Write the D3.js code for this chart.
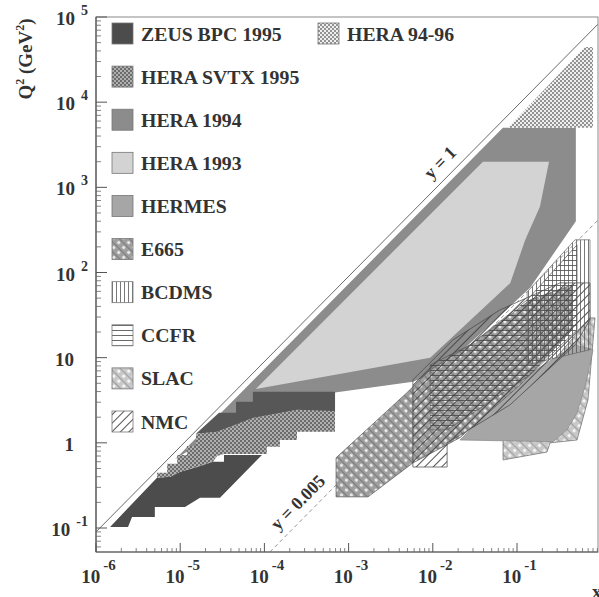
<!DOCTYPE html>
<html><head><meta charset="utf-8">
<script src="https://cdn.jsdelivr.net/npm/d3@7"></script>
<style>
html,body{margin:0;padding:0;background:#fff;}
svg{display:block;}
text{font-family:"Liberation Serif","DejaVu Serif",serif;font-weight:bold;fill:#333;}
</style></head><body>
<svg id="chart" width="599" height="597"></svg>
<script>
// Kinematic regions in the (x, Q2) plane; vertices are [x, Q2 in GeV^2]
const hera9496 = [[0.64,44500],[0.80,44500],[0.80,5000],[0.078,5000]];
const hera1994 = [[0.068,5000],[0.50,5000],[0.50,400],[0.143,66],[0.0122,7.0],[0.0058,5.2],[6.9e-4,3.9],[6.9e-4,2.3],[1.54e-5,0.92],[8.7e-6,0.64]];
const hera1993 = [[0.0394,2000],[0.24,2000],[0.187,590],[0.125,240],[0.083,75],[0.0093,10],[7.9e-5,4.3]];
const hera94Low = [[1.54e-5,1.28],[2.89e-5,2.25],[4.6e-5,2.25],[4.6e-5,3.03],[7.3e-5,3.03],[7.3e-5,3.97],[6.9e-4,3.97],[6.9e-4,2.31],[2.44e-4,2.44],[7.3e-5,1.96],[2.74e-5,1.35]];
const zeusBpc = [[9.35e-5,0.72],[3.31e-5,0.72],[3.31e-5,0.60],[2.45e-5,0.60],[1.58e-5,0.52],[1.0e-5,0.457],[7.6e-6,0.40],[5.3e-6,0.39],[1.47e-6,0.103],[2.4e-6,0.103],[2.68e-6,0.135],[5.0e-6,0.135],[5.0e-6,0.177],[1.14e-5,0.177],[1.72e-5,0.226],[2.97e-5,0.226]];
const heraSvtx = [[1.54e-5,1.28],[2.74e-5,1.35],[7.3e-5,1.96],[2.44e-4,2.44],[6.9e-4,2.37],[6.9e-4,1.35],[2.44e-4,1.35],[2.44e-4,1.08],[1.53e-4,1.08],[1.53e-4,0.90],[1.07e-4,0.90],[1.07e-4,0.74],[3.31e-5,0.74],[2.74e-5,0.70],[2.45e-5,0.60],[1.58e-5,0.52],[1.0e-5,0.457],[7.6e-6,0.40],[5.3e-6,0.39],[5.3e-6,0.445],[7.0e-6,0.445],[7.0e-6,0.567],[9.2e-6,0.567],[9.2e-6,0.72],[1.2e-5,0.72],[1.2e-5,0.92],[1.54e-5,0.92]];
const slac = [[0.0683,1.03],[0.0683,0.63],[0.227,0.78],[0.247,1.0],[0.516,1.08],[0.697,3.2],[0.844,29.3],[0.736,29.3],[0.0683,1.86]];
const hermes = [[0.021,1.08],[0.268,1.03],[0.393,1.42],[0.516,2.25],[0.643,4.54],[0.80,12.4],[0.489,14.1],[0.109,5.49]];
const e665 = [[7.1e-4,0.667],[4.9e-3,3.86],[9.3e-3,7.19],[0.0277,14.1],[0.143,47.6],[0.45,71.5],[0.45,21.2],[0.109,4.80],[0.021,1.15],[5.8e-3,0.58],[1.7e-3,0.232],[7.1e-4,0.232]];
const nmc = [[5.8e-3,0.52],[0.0148,0.52],[0.0148,1.0],[0.0826,2.79],[0.489,14.1],[0.736,27.8],[0.736,75.5],[0.324,75.5],[0.0628,36.4],[0.0174,16.2],[5.8e-3,5.49]];
const ccfr = [[9.3e-3,1.42],[9.3e-3,8.23],[0.0277,14.1],[0.132,47.6],[0.516,211],[0.516,21.2],[0.143,6.28],[0.0277,2.13],[0.0148,1.42]];
const bcdms = [[0.489,242],[0.736,242],[0.736,12.4],[0.132,8.23],[0.132,59]];

// Kinematic limit lines Q2 = s*x*y with s = 9e4 GeV^2
const sHera = 9e4;
const yLines = [1, 0.005];
const yLineLabels = ["y = 1", "y = 0.005"];
const yLineLabelX = [0.0163, 3.35e-4];

// Axis ticks (powers of ten)
const xTickExps = [-6, -5, -4, -3, -2, -1];
const yTickExps = [-1, 0, 1, 2, 3, 4, 5];

// Legend entries
const legendLeft = ["ZEUS BPC 1995","HERA SVTX 1995","HERA 1994","HERA 1993","HERMES","E665","BCDMS","CCFR","SLAC","NMC"];
const legendRight = ["HERA 94-96"];

const svg = d3.select("#chart");
const plot = {left: 96, right: 598, top: 17, bottom: 552};
const x = d3.scaleLog().domain([1e-6, 1]).range([96, 601.2]);
const y = d3.scaleLog().domain([0.1, 1e5]).range([528, 17]);

const defs = svg.append("defs");
defs.append("clipPath").attr("id", "plotclip").append("rect")
  .attr("x", plot.left).attr("y", plot.top)
  .attr("width", plot.right - plot.left).attr("height", plot.bottom - plot.top);

function pattern(id, w, h, bg, transform) {
  const p = defs.append("pattern").attr("id", id).attr("patternUnits", "userSpaceOnUse")
    .attr("width", w).attr("height", h);
  if (transform) p.attr("patternTransform", transform);
  if (bg) p.append("rect").attr("width", w).attr("height", h).attr("fill", bg);
  return p;
}
// fine chequer
let p = pattern("p-svtx", 4, 4, "#b0b0b0");
p.append("rect").attr("width", 2).attr("height", 2).attr("fill", "#6c6c6c");
p.append("rect").attr("x", 2).attr("y", 2).attr("width", 2).attr("height", 2).attr("fill", "#6c6c6c");
p = pattern("p-h9496", 4, 4, "#efefef");
p.append("rect").attr("width", 2).attr("height", 2).attr("fill", "#929292");
p.append("rect").attr("x", 2).attr("y", 2).attr("width", 2).attr("height", 2).attr("fill", "#929292");
// dotted weave
p = pattern("p-e665", 7, 7, "#9e9e9e", "rotate(45)");
p.append("circle").attr("cx", 3.5).attr("cy", 3.5).attr("r", 1.6).attr("fill", "#f0f0f0");
p.append("rect").attr("width", 7).attr("height", 0.8).attr("fill", "#707070");
p = pattern("p-slac", 7, 7, "#c8c8c8", "rotate(45)");
p.append("circle").attr("cx", 3.5).attr("cy", 3.5).attr("r", 1.6).attr("fill", "#fafafa");
p.append("rect").attr("width", 7).attr("height", 0.8).attr("fill", "#959595");
// line hatches
p = pattern("p-nmc", 6, 6, null, "rotate(45)");
p.append("line").attr("x1", 0.5).attr("y1", 0).attr("x2", 0.5).attr("y2", 6).attr("stroke", "#3e3e3e").attr("stroke-width", 0.9);
p = pattern("p-ccfr", 6, 5, null);
p.append("line").attr("x1", 0).attr("y1", 0.5).attr("x2", 6).attr("y2", 0.5).attr("stroke", "#444").attr("stroke-width", 0.8);
p = pattern("p-bcdms", 4, 6, null);
p.append("line").attr("x1", 0.5).attr("y1", 0).attr("x2", 0.5).attr("y2", 6).attr("stroke", "#555").attr("stroke-width", 0.8);

const fills = {
  "ZEUS BPC 1995": "#4c4c4c",
  "HERA SVTX 1995": "url(#p-svtx)",
  "HERA 1994": "#8c8c8c",
  "HERA 1993": "#d3d3d3",
  "HERMES": "#a6a6a6",
  "E665": "url(#p-e665)",
  "BCDMS": "url(#p-bcdms)",
  "CCFR": "url(#p-ccfr)",
  "SLAC": "url(#p-slac)",
  "NMC": "url(#p-nmc)",
  "HERA 94-96": "url(#p-h9496)"
};

const regions = [
  {pts: hera1994, fill: fills["HERA 1994"], stroke: "none"},
  {pts: hera1993, fill: fills["HERA 1993"], stroke: "none"},
  {pts: hera9496, fill: fills["HERA 94-96"], stroke: "none"},
  {pts: hera94Low, fill: "#575757", stroke: "none"},
  {pts: zeusBpc, fill: fills["ZEUS BPC 1995"], stroke: "none"},
  {pts: heraSvtx, fill: fills["HERA SVTX 1995"], stroke: "none"},
  {pts: slac, fill: fills["SLAC"], stroke: "#666"},
  {pts: hermes, fill: fills["HERMES"], stroke: "#888"},
  {pts: e665, fill: fills["E665"], stroke: "#555"},
  {pts: nmc, fill: fills["NMC"], stroke: "#444"},
  {pts: ccfr, fill: fills["CCFR"], stroke: "#555"},
  {pts: bcdms, fill: fills["BCDMS"], stroke: "#666"}
];

const line = d3.line().x(d => x(d[0])).y(d => y(d[1]));
const g = svg.append("g").attr("clip-path", "url(#plotclip)");
g.selectAll("path.region").data(regions).join("path")
  .attr("class", "region")
  .attr("d", d => line(d.pts) + "Z")
  .attr("fill", d => d.fill)
  .attr("stroke", d => d.stroke)
  .attr("stroke-width", 0.7);

// kinematic limit lines
const qMin = y.invert(plot.bottom);
yLines.forEach((yy, i) => {
  const x0 = Math.max(1e-6, qMin / (sHera * yy));
  const pts = [[x0, sHera * yy * x0], [1, sHera * yy]];
  g.append("path").attr("d", line(pts)).attr("fill", "none")
    .attr("stroke", i === 0 ? "#6a6a6a" : "#8a8a8a")
    .attr("stroke-width", i === 0 ? 1 : 0.9)
    .attr("stroke-dasharray", i === 0 ? null : "4,3");
});
const angle = -Math.atan((y(1) - y(10)) / (x(10) - x(1))) * 180 / Math.PI;
yLines.forEach((yy, i) => {
  const xv = yLineLabelX[i];
  svg.append("text")
    .attr("transform", `translate(${x(xv)},${y(sHera * yy * xv)}) rotate(${angle})`)
    .attr("x", 0).attr("y", -9)
    .attr("text-anchor", "middle")
    .style("font-size", "18px")
    .text(yLineLabels[i]);
});

// frame
svg.append("rect").attr("x", plot.left).attr("y", plot.top)
  .attr("width", plot.right - plot.left).attr("height", plot.bottom - plot.top)
  .attr("fill", "none").attr("stroke", "#8a8a8a").attr("stroke-width", 1);
svg.append("line").attr("x1", plot.left).attr("x2", plot.left).attr("y1", plot.top).attr("y2", plot.bottom)
  .attr("stroke", "#555").attr("stroke-width", 1.2);
svg.append("line").attr("x1", plot.left).attr("x2", plot.right).attr("y1", plot.bottom).attr("y2", plot.bottom)
  .attr("stroke", "#555").attr("stroke-width", 1.2);

// y ticks
const yMinor = [];
for (let k = -2; k <= 4; k++) for (let m = 2; m <= 9; m++) {
  const v = m * Math.pow(10, k);
  if (v >= qMin && v <= 1e5) yMinor.push(v);
}
svg.selectAll("line.ymin").data(yMinor).join("line").attr("class", "ymin")
  .attr("x1", plot.left).attr("x2", plot.left + 5)
  .attr("y1", d => y(d)).attr("y2", d => y(d)).attr("stroke", "#666").attr("stroke-width", 0.8);
svg.selectAll("line.ymaj").data(yTickExps).join("line").attr("class", "ymaj")
  .attr("x1", plot.left).attr("x2", plot.left + 11)
  .attr("y1", d => y(Math.pow(10, d))).attr("y2", d => y(Math.pow(10, d))).attr("stroke", "#555").attr("stroke-width", 1);

// x ticks
const xMax = x.invert(plot.right);
const xMinor = [];
for (let k = -6; k <= -1; k++) for (let m = 2; m <= 9; m++) {
  const v = m * Math.pow(10, k);
  if (v <= xMax) xMinor.push(v);
}
svg.selectAll("line.xmin").data(xMinor).join("line").attr("class", "xmin")
  .attr("y1", plot.bottom).attr("y2", plot.bottom - 4)
  .attr("x1", d => x(d)).attr("x2", d => x(d)).attr("stroke", "#666").attr("stroke-width", 0.8);
svg.selectAll("line.xmaj").data(xTickExps).join("line").attr("class", "xmaj")
  .attr("y1", plot.bottom).attr("y2", plot.bottom - 9)
  .attr("x1", d => x(Math.pow(10, d))).attr("x2", d => x(Math.pow(10, d))).attr("stroke", "#555").attr("stroke-width", 1);

// y tick labels
yTickExps.forEach(k => {
  const py = y(Math.pow(10, k));
  if (k === 0 || k === 1) {
    svg.append("text").attr("x", 74).attr("y", py + 8).attr("text-anchor", "end")
      .style("font-size", "19px").text(k === 0 ? "1" : "10");
  } else {
    const t = svg.append("text").attr("x", 88).attr("y", py + 8).attr("text-anchor", "end")
      .style("font-size", "19px");
    t.append("tspan").text("10");
    t.append("tspan").attr("dx", 6).attr("dy", -10).style("font-size", "14px").text(String(k));
  }
});
// x tick labels
xTickExps.forEach(k => {
  const t = svg.append("text").attr("x", x(Math.pow(10, k)) + 2.5).attr("y", 583)
    .attr("text-anchor", "middle").style("font-size", "19px");
  t.append("tspan").text("10");
  t.append("tspan").attr("dx", 3).attr("dy", -13).style("font-size", "15px").text(String(k));
});

// axis titles
const yt = svg.append("text").attr("transform", "translate(32,59) rotate(-90)")
  .attr("text-anchor", "middle").style("font-size", "19px");
yt.append("tspan").text("Q");
yt.append("tspan").attr("dy", -8).style("font-size", "12px").text("2");
yt.append("tspan").attr("dy", 8).text(" (GeV");
yt.append("tspan").attr("dy", -8).style("font-size", "12px").text("2");
yt.append("tspan").attr("dy", 8).text(")");
svg.append("text").attr("x", 592).attr("y", 598).style("font-size", "19px").text("x");

// legend
const legendY = d3.scaleLinear().domain([0, legendLeft.length - 1]).range([34, 422]);
function legendItem(name, i, sx) {
  const cy = legendY(i);
  svg.append("rect").attr("x", sx).attr("y", cy - 11).attr("width", 21).attr("height", 21)
    .attr("fill", fills[name]).attr("stroke", "#777").attr("stroke-width", 0.8);
  svg.append("text").attr("x", sx + 29).attr("y", cy + 6.5).style("font-size", "19.8px").text(name);
}
legendLeft.forEach((n, i) => legendItem(n, i, 112));
legendRight.forEach((n, i) => legendItem(n, i, 318));
</script>
</body></html>
